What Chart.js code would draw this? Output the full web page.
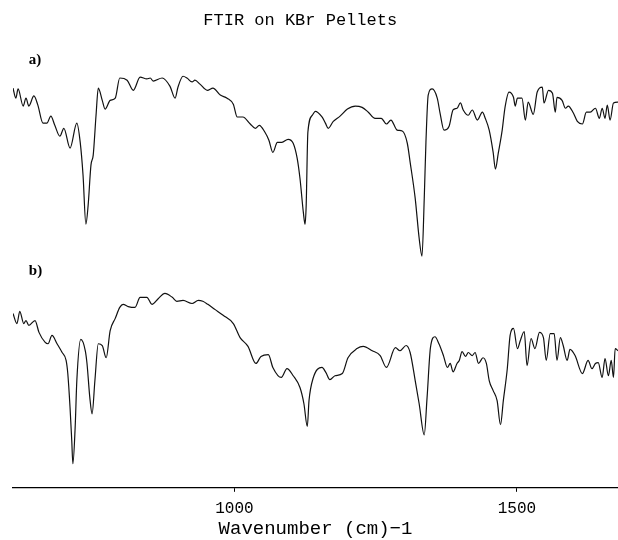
<!DOCTYPE html>
<html>
<head>
<meta charset="utf-8">
<script src="https://cdn.jsdelivr.net/npm/chart.js@4"></script>
<style>
  html, body { margin: 0; padding: 0; background: #fff; }
  #wrap { width: 618px; height: 540px; position: relative; }
</style>
</head>
<body>
<div id="wrap"><canvas id="ftir"></canvas></div>
<script>
// spectrum a) - wavenumber (cm-1) and offset transmittance
const waveA = [608,613,617,626,631,636,645,652,661,668,675,682,691,698,709,721,727,732,737,741,746,750,755,759,766,771,780,789,797,810,821,833,845,851,856,872,886,895,900,909,916,925,930,939,952,962,975,987,998,1005,1015,1028,1037,1044,1054,1061,1068,1076,1084,1095,1104,1111,1116,1122,1125,1127,1130,1138,1143,1155,1161,1166,1175,1187,1200,1214,1226,1237,1249,1260,1269,1277,1288,1297,1306,1311,1320,1327,1332,1336,1339,1343,1350,1359,1364,1371,1380,1387,1394,1400,1405,1414,1421,1430,1439,1444,1451,1458,1462,1467,1474,1479,1486,1494,1497,1501,1509,1515,1520,1529,1536,1545,1548,1556,1563,1568,1571,1580,1586,1591,1600,1607,1616,1623,1630,1639,1646,1651,1656,1660,1665,1671,1679];
const transA = [91.3,89.0,91.1,87.2,89.0,87.2,89.5,87.4,83.3,83.3,84.9,82.8,80.3,82.1,77.6,83.3,78.9,71.4,60.2,64.5,73.7,76.0,85.1,91.3,88.5,86.5,88.5,89.0,93.6,93.1,90.8,93.8,93.4,93.6,92.9,93.6,91.7,89.0,91.5,94.0,93.6,92.7,93.1,92.2,90.8,91.3,89.7,89.0,87.6,84.7,84.7,83.1,82.1,82.8,81.2,79.4,76.6,78.9,78.9,79.6,78.7,75.3,70.7,62.9,60.2,64.5,81.2,85.1,86.0,84.7,83.3,82.1,83.7,84.9,86.5,87.2,86.9,85.8,84.4,84.4,83.1,84.0,81.7,81.5,78.7,74.4,66.1,57.0,52.9,66.1,78.9,89.7,91.1,89.0,85.6,81.7,82.6,86.3,86.7,87.9,86.3,85.1,86.3,84.0,85.8,84.4,81.7,76.6,72.8,76.4,81.7,86.9,90.4,89.2,87.2,89.0,89.0,84.0,88.1,85.3,90.4,91.5,87.9,90.8,90.1,85.8,89.2,88.5,86.7,87.2,85.6,83.7,83.1,85.8,85.8,86.7,84.4,86.7,84.4,87.4,84.0,87.9,88.1];

// spectrum b)
const waveB = [608,615,620,627,631,636,647,654,665,670,677,686,695,702,705,709,712,714,718,721,728,736,739,744,748,753,759,766,773,780,789,797,803,812,824,833,845,854,865,877,890,898,909,925,936,944,953,966,980,998,1010,1024,1038,1047,1060,1068,1083,1093,1104,1116,1123,1129,1132,1139,1155,1162,1169,1178,1191,1201,1217,1228,1244,1258,1269,1285,1293,1304,1311,1320,1327,1336,1341,1347,1355,1362,1370,1377,1382,1387,1394,1398,1403,1409,1414,1421,1426,1432,1440,1446,1451,1458,1465,1471,1476,1483,1488,1494,1501,1506,1513,1518,1525,1532,1540,1547,1552,1559,1566,1571,1577,1582,1589,1594,1603,1616,1626,1633,1639,1644,1651,1656,1662,1667,1671,1674,1679];
const transB = [39.8,37.5,40.3,37.5,38.2,37.1,38.2,35.5,33.2,32.9,34.8,32.9,30.9,29.1,26.1,18.3,10.8,5.5,13.7,24.5,33.9,31.3,28.4,20.6,16.9,24.5,32.9,32.5,29.7,35.9,38.7,41.2,41.9,41.4,41.2,43.5,43.5,41.9,43.2,44.4,43.5,42.6,42.8,42.1,42.8,42.6,41.9,40.7,39.4,37.5,34.3,32.3,28.4,30.0,30.4,27.5,25.2,27.2,25.6,22.9,19.2,14.0,19.9,24.9,27.5,26.3,24.7,25.6,26.1,29.7,31.8,32.3,31.3,30.2,27.5,32.0,31.3,32.5,30.9,24.5,19.2,12.1,20.6,32.0,34.5,32.9,30.2,27.5,28.4,26.5,28.4,29.1,31.1,30.0,30.9,30.2,30.9,28.4,29.7,28.4,24.5,22.2,19.9,14.4,19.9,27.2,34.8,36.4,31.8,33.6,35.7,27.9,34.1,31.8,35.5,34.3,29.1,35.2,35.2,29.1,34.3,32.5,29.1,31.6,30.2,26.1,29.1,27.2,28.4,28.6,25.2,29.5,25.6,29.1,25.2,31.8,31.3];

const panelLabels = ['a)', 'b)'];
const tickValues = [1000, 1500];

const toPoints = (xs, ys) => xs.map((x, i) => ({x: x, y: ys[i]}));

// draws the a) / b) panel letters
const panelLabelPlugin = {
  id: 'panelLabels',
  afterDatasetsDraw(chart, args, opts) {
    const ctx = chart.ctx;
    const xs = chart.scales.x, ys = chart.scales.y;
    ctx.save();
    ctx.font = 'bold 15px "Liberation Serif"';
    ctx.fillStyle = '#000';
    ctx.textBaseline = 'middle';
    panelLabels.forEach((t, i) => {
      ctx.fillText(t, xs.getPixelForValue(opts.at[i][0]), ys.getPixelForValue(opts.at[i][1]));
    });
    ctx.restore();
  }
};

const lineStyle = {
  borderColor: '#111',
  borderWidth: 1.2,
  pointRadius: 0,
  fill: false,
  cubicInterpolationMode: 'monotone'
};

new Chart(document.getElementById('ftir'), {
  type: 'line',
  data: {
    datasets: [
      Object.assign({label: 'a)', data: toPoints(waveA, transA)}, lineStyle),
      Object.assign({label: 'b)', data: toPoints(waveB, transB)}, lineStyle)
    ]
  },
  options: {
    responsive: true,
    maintainAspectRatio: false,
    animation: false,
    layout: {padding: {left: 13, right: 0, top: 0, bottom: 2}},
    plugins: {
      legend: {display: false},
      tooltip: {enabled: false},
      title: {
        display: true,
        // trailing spaces nudge the centred heading a bit left, as in the original
        text: 'FTIR on KBr Pellets   ',
        color: '#000',
        font: {family: '"Liberation Mono"', size: 17, weight: 'normal'},
        padding: {top: 10, bottom: 19.6}
      },
      panelLabels: {at: [[636, 97.7], [636, 49.6]]}
    },
    scales: {
      x: {
        type: 'linear',
        min: 608,
        max: 1679,
        afterBuildTicks: (scale) => { scale.ticks = tickValues.map(v => ({value: v})); },
        grid: {display: true, drawOnChartArea: false, tickLength: 4, color: '#000'},
        border: {display: true, color: '#000', width: 1.2},
        ticks: {
          color: '#000',
          padding: 7,
          maxRotation: 0,
          callback: (v) => String(v),
          font: {family: '"Liberation Mono"', size: 16}
        },
        title: {
          display: true,
          text: 'Wavenumber (cm)\u22121',
          color: '#000',
          font: {family: '"Liberation Mono"', size: 19, lineHeight: 1},
          padding: {top: -6, bottom: 0}
        }
      },
      y: {
        display: false,
        min: 0,
        max: 100
      }
    }
  },
  plugins: [panelLabelPlugin]
});
</script>
</body>
</html>
